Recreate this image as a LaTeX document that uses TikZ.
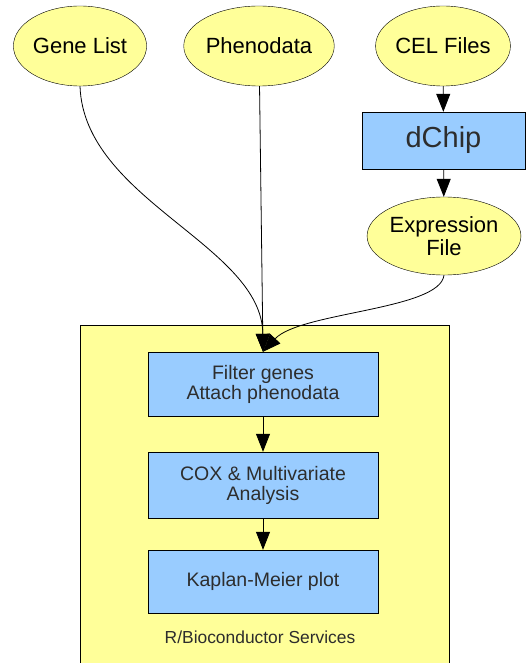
\documentclass[tikz,border=0pt]{standalone}
\usepackage{fontspec}
\setmainfont{Liberation Sans}
\usetikzlibrary{arrows.meta,shapes.geometric}

\definecolor{fileyellow}{RGB}{255,255,153}
\definecolor{stepblue}{RGB}{153,204,255}
\definecolor{steptext}{RGB}{45,45,45}

\begin{document}
\begin{tikzpicture}[x=1pt, y=-1pt,
  infile/.style={draw, ellipse, fill=fileyellow, minimum width=132pt, minimum height=80pt, inner sep=0pt, align=center, font=\fontsize{22}{23}\selectfont},
  stepbox/.style={draw, rectangle, fill=stepblue, minimum width=230pt, inner sep=0pt, align=center, text=steptext, font=\fontsize{19.5}{20}\selectfont},
  link/.style={-{Triangle[length=18pt,width=14pt]}, line width=0.8pt}]
  \useasboundingbox (0,0) rectangle (527,663);

  % service frame
  \draw[fill=fileyellow, line width=0.8pt] (80,325) rectangle (449,700);
  \node[text=steptext, font=\fontsize{17.4}{18}\selectfont] (srv) at (260,637) {R/Bioconductor Services};

  % inputs
  \node[infile] (genes) at (80,46) {Gene List};
  \node[infile] (pheno) at (259,46) {Phenodata};
  \node[infile] (cel) at (443,46) {CEL Files};
  \node[draw, rectangle, fill=stepblue, minimum width=163pt, minimum height=57pt, text=steptext, font=\fontsize{29}{30}\selectfont] (dchip) at (443.5,140.5) {dChip};
  \node[infile, minimum height=78pt] (expr) at (444,236) {Expression\\File};

  % analysis steps
  \node[stepbox, minimum height=64pt] (filter) at (263,384) {Filter genes\\Attach phenodata};
  \node[stepbox, minimum height=66pt] (cox) at (263,485) {COX \& Multivariate\\Analysis};
  \node[stepbox, minimum height=63pt] (km) at (263,581.5) {Kaplan-Meier plot};

  % edges
  \draw[link] (cel) -- (dchip);
  \draw[link] (dchip) -- (expr);
  \draw[link] (genes.south) .. controls (84,200) and (262,245) .. (filter.north);
  \draw[link] (pheno) -- (filter.north);
  \draw[link] (expr.south) .. controls (440,310) and (300,312) .. (filter.north);
  \draw[link] (filter) -- (cox);
  \draw[link] (cox) -- (km);
\end{tikzpicture}
\end{document}
